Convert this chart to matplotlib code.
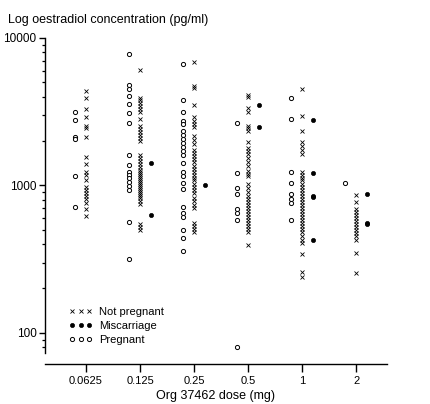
import matplotlib
matplotlib.use('Agg')
import matplotlib.pyplot as plt
from matplotlib import ticker
from matplotlib.lines import Line2D

plt.rcParams['font.family'] = ['Liberation Sans', 'DejaVu Sans']
plt.rcParams['font.size'] = 8

# oestradiol (pg/ml) per dose group and outcome
doses = ['0.0625', '0.125', '0.25', '0.5', '1', '2']

not_pregnant = [
    [4390, 3940, 3320, 2890, 2545, 2470, 2140, 1570, 1405, 1240, 1185, 1095, 980, 937, 894,
     853, 814, 765, 696, 624],
    [6100, 3940, 3820, 3650, 3480, 3320, 3170, 2840, 2545, 2430, 2320, 2210, 2110, 2010, 1620,
     1545, 1475, 1405, 1340, 1280, 1240, 1200, 1165, 1130, 1095, 1060, 1030, 998, 967, 937,
     908, 880, 853, 827, 789, 753, 550, 525, 501],
    [6910, 4750, 4600, 3530, 2890, 2750, 2625, 2505, 2180, 2045, 1920, 1750, 1670, 1595, 1520,
     1450, 1365, 1300, 1240, 1185, 1130, 1080, 1030, 982, 937, 894, 827, 789, 741, 707,
     559, 533, 509, 486],
    [4125, 4000, 3375, 3170, 2545, 2470, 2355, 1980, 1805, 1725, 1645, 1545, 1450, 1365, 1260,
     1200, 1150, 1030, 967, 908, 853, 814, 777, 741, 707, 674, 644, 614, 586, 559,
     533, 509, 486, 396],
    [4530, 2980, 2355, 1980, 1860, 1750, 1645, 1240, 1185, 1130, 1080, 1030, 982, 937, 894,
     853, 814, 777, 741, 707, 674, 644, 614, 586, 559, 533, 509, 486, 456, 429,
     408, 344, 257, 241],
    [867, 777, 696, 664, 634, 605, 577, 550, 525, 501, 478, 456, 429, 350, 253],
]

miscarriage = [
    [],
    [1430, 634],
    [1010],
    [3530, 2505],
    [2795, 1220, 850, 835, 429],
    [877, 560, 545],
]

pregnant = [
    [3170, 2795, 2140, 2080, 1165, 718],
    [7840, 4820, 4530, 4060, 3590, 3120, 2670, 1620, 1385, 1240, 1185, 1130, 1060, 998, 937,
     568, 315],
    [6700, 3820, 3170, 2750, 2625, 2355, 2210, 2080, 1950, 1835, 1725, 1620, 1430, 1240, 1165,
     1045, 952, 718, 654, 614, 501, 442, 361],
    [2670, 1220, 968, 869, 696, 654, 586, 80],
    [3940, 2840, 1240, 1045, 869, 814, 765, 586],
    [1040],
]

fig = plt.figure(figsize=(4.30, 4.04), dpi=100)
ax = fig.add_axes([45/430, 1 - 353/404, 342/430, 315/404])

x_style = dict(marker='x', ms=3.0, mew=0.6, color='black', ls='none')
dot_style = dict(marker='o', ms=3.0, mew=0.5, mfc='black', mec='black', ls='none')
o_style = dict(marker='o', ms=3.0, mew=0.7, mfc='white', mec='black', ls='none')

for i in range(len(doses)):
    ax.plot([i] * len(not_pregnant[i]), not_pregnant[i], **x_style)
    ax.plot([i + 0.2] * len(miscarriage[i]), miscarriage[i], **dot_style)
    ax.plot([i - 0.2] * len(pregnant[i]), pregnant[i], **o_style)

ax.set_yscale('log')
ax.set_ylim(73, 10000)
ax.set_xlim(-0.76, 5.57)

ax.yaxis.set_major_locator(ticker.FixedLocator([100, 1000, 10000]))
ax.yaxis.set_major_formatter(ticker.FuncFormatter(lambda v, p: '%d' % v))
ax.yaxis.set_minor_locator(ticker.LogLocator(base=10, subs=range(2, 10)))
ax.yaxis.set_minor_formatter(ticker.NullFormatter())

ax.set_xticks(range(len(doses)))
ax.set_xticklabels(doses)

for side in ['top', 'right']:
    ax.spines[side].set_visible(False)
ax.spines['left'].set_linewidth(1.0)
ax.spines['bottom'].set_linewidth(1.0)
ax.spines['bottom'].set_position(('outward', 8))

ax.tick_params(axis='y', which='major', length=4, width=1.0, pad=2, labelsize=8.5)
ax.tick_params(axis='y', which='minor', length=2.4, width=0.9)
ax.tick_params(axis='x', which='major', length=5.5, width=1.0, pad=3)

ax.set_xlabel('Org 37462 dose (mg)', fontsize=9, labelpad=3)
fig.text(8/430, 1 - 20/404, 'Log oestradiol concentration (pg/ml)', fontsize=9,
         ha='left', va='center')

handles = [
    Line2D([], [], **x_style),
    Line2D([], [], **dot_style),
    Line2D([], [], **o_style),
]
ax.legend(handles, ['Not pregnant', 'Miscarriage', 'Pregnant'], numpoints=3,
          frameon=False, loc='upper left', bbox_to_anchor=(69/430, 1 - 307/404),
          bbox_transform=fig.transFigure, borderpad=0, borderaxespad=0,
          handlelength=2.1, handletextpad=0.6, labelspacing=0.35, fontsize=8)

plt.savefig('out.png', dpi=100)
